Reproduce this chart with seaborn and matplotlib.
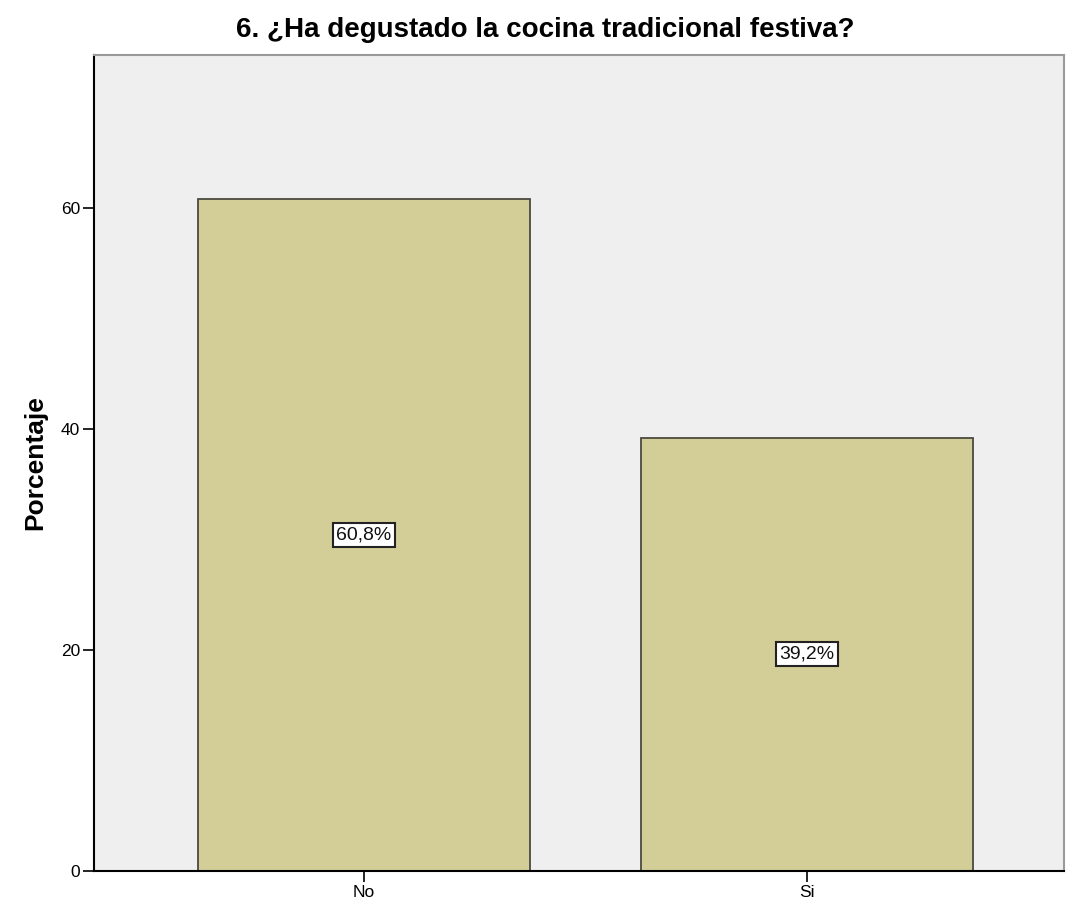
import matplotlib
matplotlib.use("Agg")
import matplotlib.pyplot as plt
import seaborn as sns
import pandas as pd

categories = ["No", "Si"]
percentages = [60.8, 39.2]
labels = ["60,8%", "39,2%"]
yticks = [0, 20, 40, 60]

sns.set_style("white")
plt.rcParams['font.family'] = ['Liberation Sans', 'DejaVu Sans']
plt.rcParams['text.color'] = 'black'

df = pd.DataFrame({"cat": categories, "pct": percentages})

fig = plt.figure(figsize=(10.76, 9.11), dpi=100)
ax = fig.add_axes([0.0874, 0.0439, 0.9014, 0.8957])
ax.set_facecolor("#EFEFEF")

sns.barplot(data=df, x="cat", y="pct", color="#D3CE97", saturation=1,
            width=0.75, edgecolor="#4a4a40", linewidth=1.3, ax=ax)

for i, (v, lab) in enumerate(zip(percentages, labels)):
    ax.text(i, v / 2, lab, ha="center", va="center", fontsize=14, color="#111111",
            bbox=dict(boxstyle="square,pad=0.18", facecolor="white", edgecolor="#222222", linewidth=1.5))

ax.set_xlim(-0.609, 1.58)
ax.set_ylim(0, 73.85)
ax.set_yticks(yticks)
ax.set_yticklabels([str(t) for t in yticks])
ax.tick_params(axis="both", direction="out", length=8, width=1.2, color="black",
               labelcolor="black", labelsize=12.5, pad=2, left=True, bottom=True)

ax.set_xlabel("")
ax.set_ylabel("Porcentaje", fontsize=19, fontweight="bold", labelpad=10, color="black")
fig.text(0.507, 0.967, "6. ¿Ha degustado la cocina tradicional festiva?", fontsize=20,
         fontweight="bold", color="black", ha="center", va="center")

for s in ["left", "bottom"]:
    ax.spines[s].set_color("black")
    ax.spines[s].set_linewidth(1.5)
for s in ["top", "right"]:
    ax.spines[s].set_color("#9a9a9a")
    ax.spines[s].set_linewidth(1.5)

fig.savefig("out.png", dpi=100)
